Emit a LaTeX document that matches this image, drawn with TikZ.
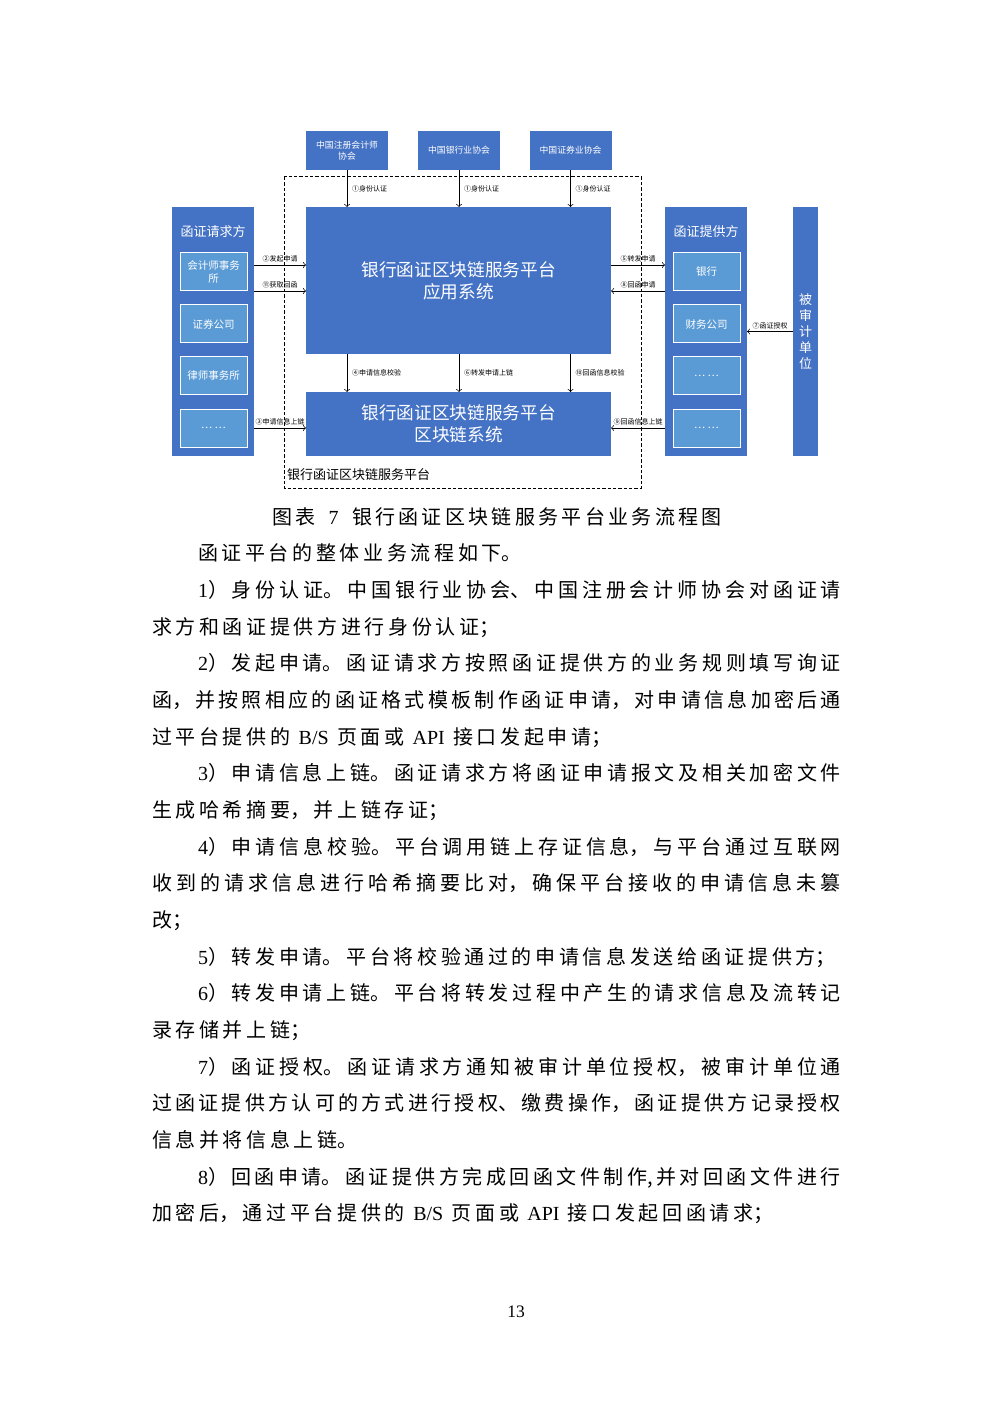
\documentclass[tikz,border=0pt]{standalone}
\usepackage{fontspec}
\setmainfont{Liberation Serif}
\newfontfamily\cjk{Noto Sans CJK SC}
\usetikzlibrary{positioning, calc}

\definecolor{hblue}{HTML}{4472C4}
\definecolor{hlight}{HTML}{5B9BD5}
\newcommand\lat[1]{\mbox{\rmfamily #1}}
\newcommand\pind{\hspace*{27.6pt}}
\newcommand\gap{\hspace{5pt}}
\XeTeXlinebreaklocale "zh"
\XeTeXlinebreakskip=0pt
\newcommand\bodyfont{\cjk\fontsize{12pt}{22pt}\selectfont\XeTeXlinebreakskip=2.2pt plus 2pt minus 0.6pt\relax}
\newcommand\capfont{\cjk\fontsize{12pt}{14pt}\selectfont\XeTeXlinebreakskip=0pt plus 1fil\relax}

\begin{document}
\begin{tikzpicture}[
    x=0.6pt, y=-0.6pt,
    every node/.style = {inner sep=0pt, outer sep=0pt},
    org/.style = {fill=hblue, text=white, minimum width=49.2pt, minimum height=23.4pt, align=center, font=\cjk\fontsize{5.3pt}{6.6pt}\selectfont},
    platform/.style = {fill=hblue, text=white, minimum width=183pt, align=center, font=\cjk\fontsize{10.6pt}{13.2pt}\selectfont},
    party/.style = {fill=hblue, minimum width=49.2pt, minimum height=149.4pt},
    member/.style = {fill=hlight, draw=white, line width=0.6pt, text=white, minimum width=40.2pt, minimum height=22.8pt, align=center, font=\cjk\fontsize{6.3pt}{7.6pt}\selectfont},
    title/.style = {text=white, font=\cjk\fontsize{7.8pt}{9pt}\selectfont},
    flowlabel/.style = {font=\cjk\fontsize{4.2pt}{5pt}\selectfont}
]
    \useasboundingbox (0,0) rectangle (992,1403);

    % associations
    \node [org] (cicpa) at (347,150.5) {中国注册会计师\\协会};
    \node [org] (cba) at (459,150.5) {中国银行业协会};
    \node [org] (sac) at (570.5,150.5) {中国证券业协会};

    % platform
    \draw [dashed, dash pattern=on 2pt off 1.2pt, line width=0.6pt] (284,177) rectangle (641,488);
    \node [anchor=west, font=\cjk\fontsize{7.8pt}{9pt}\selectfont] (framelabel) at (287,475) {银行函证区块链服务平台};
    \node [platform, minimum height=88.2pt] (app) at (458.5,280.5) {银行函证区块链服务平台\\应用系统};
    \node [platform, minimum height=38.4pt] (chain) at (458.5,424) {银行函证区块链服务平台\\区块链系统};

    % requesters
    \node [party] (req) at (213,331.5) {};
    \node [title] (reqtitle) at (213,232) {函证请求方};
    \node [member] (req1) at (213.5,272) {会计师事务\\所};
    \node [member] (req2) at (213.5,324) {证券公司};
    \node [member] (req3) at (213.5,376) {律师事务所};
    \node [member] (req4) at (213.5,428) {…\ …};

    % providers
    \node [party] (prov) at (706,331.5) {};
    \node [title] (provtitle) at (706,232) {函证提供方};
    \node [member] (prov1) at (706.5,272) {银行};
    \node [member] (prov2) at (706.5,324) {财务公司};
    \node [member] (prov3) at (706.5,376) {…\ …};
    \node [member] (prov4) at (706.5,428) {…\ …};

    \node [fill=hblue, minimum width=15pt, minimum height=149.4pt, text=white, align=center,
           font=\cjk\fontsize{7.8pt}{9.6pt}\selectfont] (audit) at (805.5,331.5) {被\\审\\计\\单\\位};

    % identity checks
    \draw[->] (cicpa) -- (cicpa |- app.north) node[flowlabel, midway, right=3pt] {①身份认证};
    \draw[->] (cba) -- (cba |- app.north) node[flowlabel, midway, right=3pt] {①身份认证};
    \draw[->] (sac) -- (sac |- app.north) node[flowlabel, midway, right=3pt] {①身份认证};

    % app to chain
    \draw[->] (app.south -| cicpa) -- (chain.north -| cicpa) node[flowlabel, midway, right=3pt] {④申请信息校验};
    \draw[->] (app.south -| cba) -- (chain.north -| cba) node[flowlabel, midway, right=3pt] {⑥转发申请上链};
    \draw[->] (app.south -| sac) -- (chain.north -| sac) node[flowlabel, midway, right=3pt] {⑩回函信息校验};

    \coordinate (upper) at (0,265);
    \coordinate (lower) at (0,291);
    \coordinate (bottom) at (0,428);

    % requester side
    \draw[->] (upper -| req.east) -- (upper -| app.west) node[flowlabel, midway, above=1.5pt] {②发起申请};
    \draw[->] (lower -| req.east) -- (lower -| app.west) node[flowlabel, midway, above=1.5pt] {⑪获取回函};
    \draw[->] (bottom -| req.east) -- (bottom -| chain.west) node[flowlabel, midway, above=1.5pt] {③申请信息上链};

    % provider side
    \draw[->] (upper -| app.east) -- (upper -| prov.west) node[flowlabel, midway, above=1.5pt] {⑤转发申请};
    \draw[->] (lower -| prov.west) -- (lower -| app.east) node[flowlabel, midway, above=1.5pt] {⑧回函申请};
    \draw[->] (bottom -| prov.west) -- (bottom -| chain.east) node[flowlabel, midway, above=1.5pt] {⑨回函信息上链};
    \draw[->] (audit) -- (prov) node[flowlabel, midway, above=1.5pt] {⑦函证授权};

    % caption and text
    \node [text width=270pt, align=justify, font=\capfont] (caption) at (497,517)
        {图表\hspace{8pt}\lat{7}\hspace{8pt}银行函证区块链服务平台业务流程图\parfillskip=0pt\par};

    \node [anchor=north west, text width=413.4pt, align=justify, font=\bodyfont] (body) at (152,544) {%
        \pind 函证平台的整体业务流程如下。\par
        \pind\lat{1}）身份认证。中国银行业协会、中国注册会计师协会对函证请\linebreak
        求方和函证提供方进行身份认证；\par
        \pind\lat{2}）发起申请。函证请求方按照函证提供方的业务规则填写询证\linebreak
        函，并按照相应的函证格式模板制作函证申请，对申请信息加密后通\linebreak
        过平台提供的\gap\lat{B/S}\gap 页面或\gap\lat{API}\gap 接口发起申请；\par
        \pind\lat{3}）申请信息上链。函证请求方将函证申请报文及相关加密文件\linebreak
        生成哈希摘要，并上链存证；\par
        \pind\lat{4}）申请信息校验。平台调用链上存证信息，与平台通过互联网\linebreak
        收到的请求信息进行哈希摘要比对，确保平台接收的申请信息未篡\linebreak
        改；\par
        \pind\lat{5}）转发申请。平台将校验通过的申请信息发送给函证提供方；\par
        \pind\lat{6}）转发申请上链。平台将转发过程中产生的请求信息及流转记\linebreak
        录存储并上链；\par
        \pind\lat{7}）函证授权。函证请求方通知被审计单位授权，被审计单位通\linebreak
        过函证提供方认可的方式进行授权、缴费操作，函证提供方记录授权\linebreak
        信息并将信息上链。\par
        \pind\lat{8}）回函申请。函证提供方完成回函文件制作,并对回函文件进行\linebreak
        加密后，通过平台提供的\gap\lat{B/S}\gap 页面或\gap\lat{API}\gap 接口发起回函请求；};

    \node [font=\fontsize{10.5pt}{12pt}\selectfont] (pagenum) at (516,1312) {13};
\end{tikzpicture}
\end{document}
